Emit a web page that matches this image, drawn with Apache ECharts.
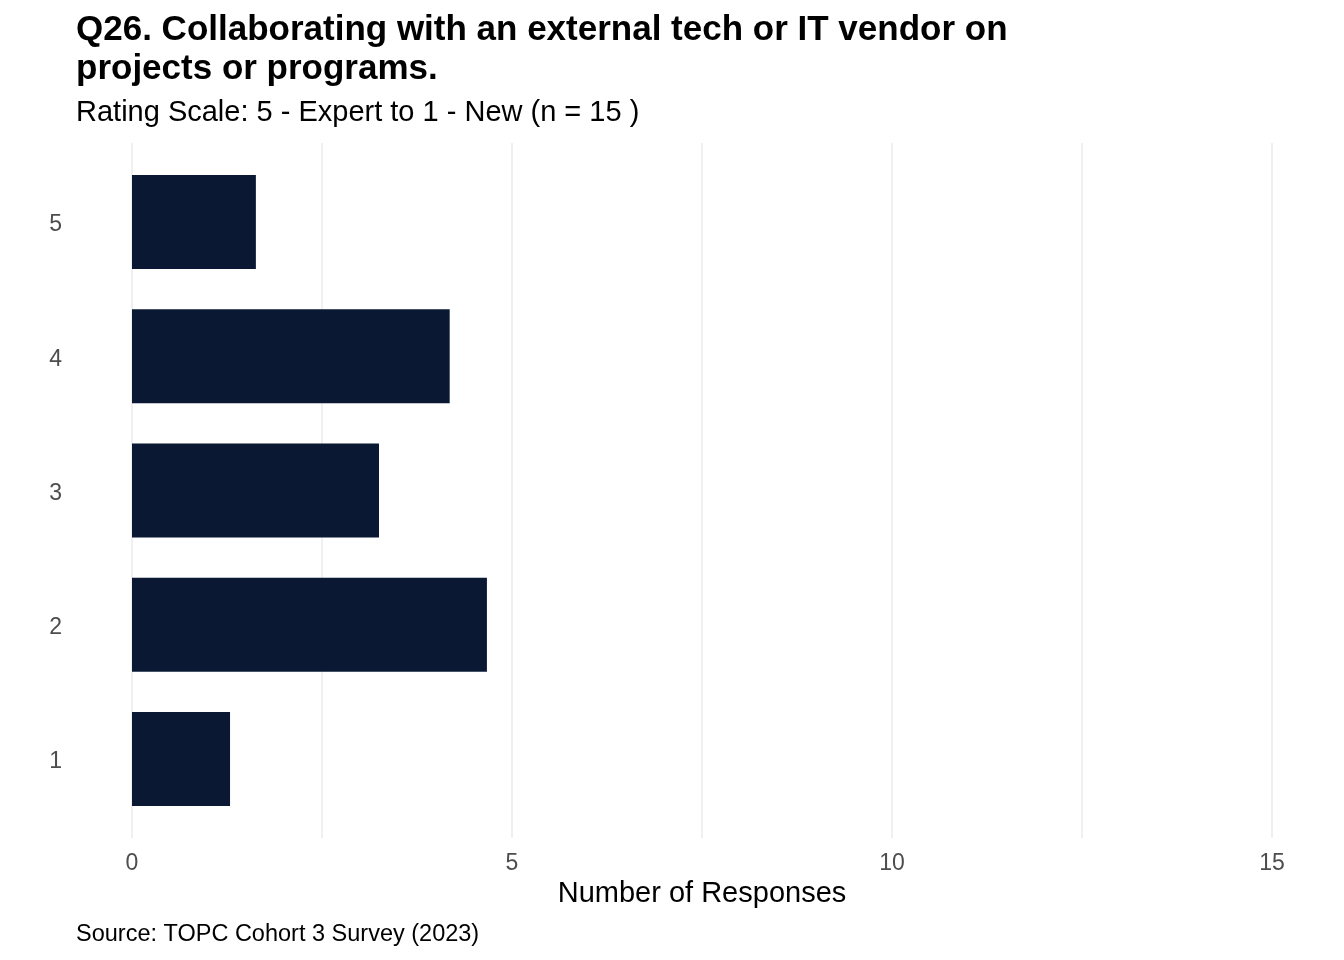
<!DOCTYPE html>
<html>
<head>
<meta charset="utf-8">
<script src="https://cdn.jsdelivr.net/npm/echarts@6/dist/echarts.min.js"></script>
<style>
html,body{margin:0;padding:0;background:#fff;}
#chart{width:1344px;height:960px;}
</style>
</head>
<body>
<div id="chart"></div>
<script>
const categories = ['1', '2', '3', '4', '5'];
const responses = [1.29, 4.67, 3.25, 4.18, 1.63];
const xTicks = [0, 5, 10, 15];

const FONT = '"Liberation Sans", Arial, Helvetica, sans-serif';
const chart = echarts.init(document.getElementById('chart'));
chart.setOption({
  backgroundColor: '#ffffff',
  animation: false,
  title: [
    {
      text: 'Q26. Collaborating with an external tech or IT vendor on\nprojects or programs.',
      left: 76, top: 11, padding: 0,
      textStyle: {fontFamily: FONT, fontSize: 35, fontWeight: 'bold', color: '#000', lineHeight: 39}
    },
    {
      text: 'Rating Scale: 5 - Expert to 1 - New (n = 15 )',
      left: 76, top: 97, padding: 0,
      textStyle: {fontFamily: FONT, fontSize: 29, fontWeight: 'normal', color: '#000', lineHeight: 31}
    },
    {
      text: 'Source: TOPC Cohort 3 Survey (2023)',
      left: 76, top: 922, padding: 0,
      textStyle: {fontFamily: FONT, fontSize: 23.5, fontWeight: 'normal', color: '#000', lineHeight: 25}
    }
  ],
  grid: [
    {left: 132, width: 1140, top: 155, height: 671, containLabel: false},
    {left: 132, width: 1140, top: 143, height: 695, containLabel: false}
  ],
  xAxis: [
    {
      type: 'value', gridIndex: 0, min: 0, max: 15,
      show: false
    },
    {
      type: 'value', gridIndex: 1, min: 0, max: 15, interval: 2.5,
      axisLine: {show: false}, axisTick: {show: false},
      splitLine: {show: true, lineStyle: {color: '#ebebeb', width: 1.5}},
      axisLabel: {
        margin: 14, color: '#4d4d4d', fontFamily: FONT, fontSize: 23,
        formatter: v => (xTicks.indexOf(v) >= 0 ? String(v) : '')
      },
      name: 'Number of Responses', nameLocation: 'middle', nameGap: 40,
      nameTextStyle: {fontFamily: FONT, fontSize: 29, color: '#000'}
    }
  ],
  yAxis: [
    {
      type: 'category', gridIndex: 0, data: categories,
      axisLine: {show: false}, axisTick: {show: false},
      splitLine: {show: false},
      axisLabel: {
        margin: 70,
        formatter: v => '{a|' + v + '}',
        rich: {a: {color: '#4d4d4d', fontFamily: FONT, fontSize: 23, padding: [6, 0, 0, 0]}}
      }
    },
    {
      type: 'value', gridIndex: 1, show: false
    }
  ],
  series: [
    {
      type: 'bar', xAxisIndex: 0, yAxisIndex: 0,
      data: responses, barWidth: 94,
      itemStyle: {color: '#0a1833'},
      z: 3
    }
  ]
});
</script>
</body>
</html>
